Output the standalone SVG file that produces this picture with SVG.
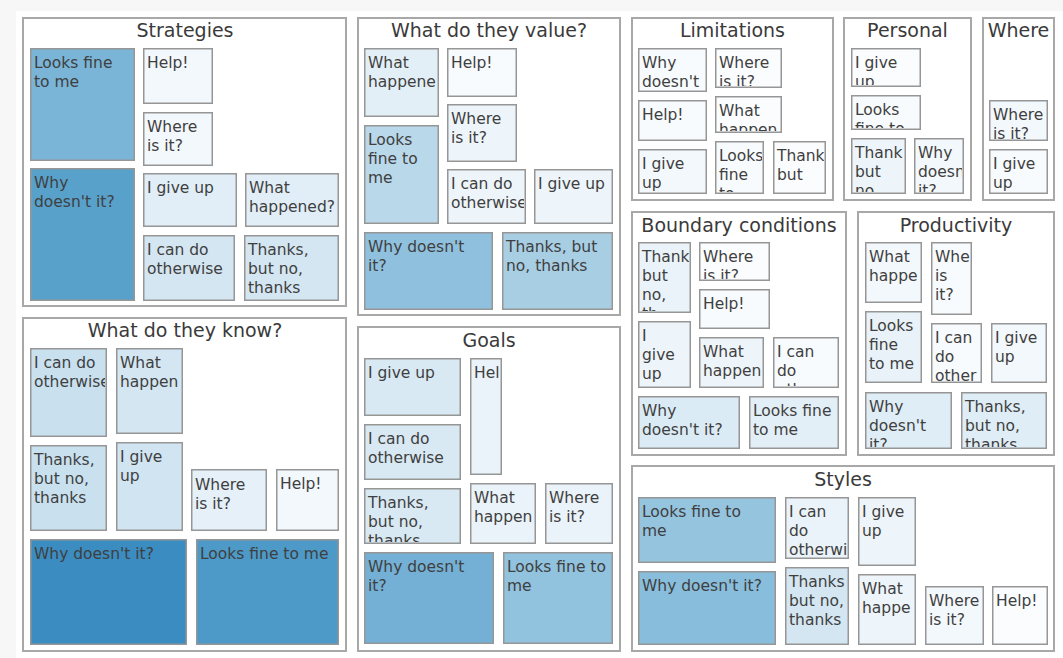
<svg xmlns="http://www.w3.org/2000/svg" width="1063" height="658" viewBox="0 0 1063 658">
  <style>
    .frame { fill: #ffffff; stroke: #a8a8a8; stroke-width: 2; }
    .title { font-family: "DejaVu Sans", Verdana, sans-serif; font-size: 19px; fill: #3a3a3a; text-anchor: middle; }
    .cell rect { stroke: #969696; stroke-width: 1.5; }
    .cell text { font-family: "DejaVu Sans", Verdana, sans-serif; font-size: 15.5px; fill: #3f3f3f; }
  </style>

  <!-- canvas -->
  <rect x="0" y="0" width="1063" height="658" fill="#f7f7f7"/>
  <rect x="16" y="11" width="1047" height="647" fill="#ffffff"/>

  <!-- Strategies -->
  <g id="strategies">
    <rect class="frame" x="23" y="18" width="323" height="288"/>
    <text class="title" x="185" y="37">Strategies</text>
    <g id="strategies-looks-fine" class="cell"><rect x="30.75" y="48.75" width="103.5" height="111.5" fill="#7ab5d7"/><svg x="32" y="50" width="101" height="109"><text x="2" y="18">Looks fine<tspan x="2" dy="19">to me</tspan></text></svg></g>
    <g id="strategies-help" class="cell"><rect x="143.75" y="48.75" width="68.5" height="54.5" fill="#f3f8fc"/><svg x="145" y="50" width="66" height="52"><text x="2" y="18">Help!</text></svg></g>
    <g id="strategies-where" class="cell"><rect x="143.75" y="112.75" width="68.5" height="52.5" fill="#f3f8fc"/><svg x="145" y="114" width="66" height="50"><text x="2" y="18">Where<tspan x="2" dy="19">is it?</tspan></text></svg></g>
    <g id="strategies-why" class="cell"><rect x="30.75" y="168.75" width="103.5" height="131.5" fill="#58a1cb"/><svg x="32" y="170" width="101" height="129"><text x="2" y="18">Why<tspan x="2" dy="19">doesn't it?</tspan></text></svg></g>
    <g id="strategies-give-up" class="cell"><rect x="143.75" y="173.75" width="92.5" height="52.5" fill="#e1eef7"/><svg x="145" y="175" width="90" height="50"><text x="2" y="18">I give up</text></svg></g>
    <g id="strategies-what" class="cell"><rect x="245.75" y="173.75" width="92.5" height="52.5" fill="#e1eef7"/><svg x="247" y="175" width="90" height="50"><text x="2" y="18">What<tspan x="2" dy="19">happened?</tspan></text></svg></g>
    <g id="strategies-otherwise" class="cell"><rect x="143.75" y="235.75" width="90.5" height="64.5" fill="#d4e6f2"/><svg x="145" y="237" width="88" height="62"><text x="2" y="18">I can do<tspan x="2" dy="19">otherwise</tspan></text></svg></g>
    <g id="strategies-thanks" class="cell"><rect x="244.75" y="235.75" width="93.5" height="64.5" fill="#d4e6f2"/><svg x="246" y="237" width="91" height="62"><text x="2" y="18">Thanks,<tspan x="2" dy="19">but no,</tspan><tspan x="2" dy="19">thanks</tspan></text></svg></g>
  </g>

  <!-- What do they value? -->
  <g id="value">
    <rect class="frame" x="358" y="18" width="262" height="297"/>
    <text class="title" x="489" y="37">What do they value?</text>
    <g id="value-what" class="cell"><rect x="364.75" y="48.75" width="73.5" height="67.5" fill="#e3eff7"/><svg x="366" y="50" width="71" height="65"><text x="2" y="18">What<tspan x="2" dy="19">happene</tspan></text></svg></g>
    <g id="value-help" class="cell"><rect x="447.75" y="48.75" width="68.5" height="47.5" fill="#f7fbfd"/><svg x="449" y="50" width="66" height="45"><text x="2" y="18">Help!</text></svg></g>
    <g id="value-where" class="cell"><rect x="447.75" y="104.75" width="68.5" height="56.5" fill="#edf5fa"/><svg x="449" y="106" width="66" height="54"><text x="2" y="18">Where<tspan x="2" dy="19">is it?</tspan></text></svg></g>
    <g id="value-looks-fine" class="cell"><rect x="364.75" y="125.75" width="73.5" height="97.5" fill="#b9d8ea"/><svg x="366" y="127" width="71" height="95"><text x="2" y="18">Looks<tspan x="2" dy="19">fine to</tspan><tspan x="2" dy="19">me</tspan></text></svg></g>
    <g id="value-otherwise" class="cell"><rect x="447.75" y="169.75" width="77.5" height="53.5" fill="#edf5fa"/><svg x="449" y="171" width="75" height="51"><text x="2" y="18">I can do<tspan x="2" dy="19">otherwise</tspan></text></svg></g>
    <g id="value-give-up" class="cell"><rect x="534.75" y="169.75" width="77.5" height="53.5" fill="#edf5fa"/><svg x="536" y="171" width="75" height="51"><text x="2" y="18">I give up</text></svg></g>
    <g id="value-why" class="cell"><rect x="364.75" y="232.75" width="127.5" height="76.5" fill="#8fc1de"/><svg x="366" y="234" width="125" height="74"><text x="2" y="18">Why doesn't<tspan x="2" dy="19">it?</tspan></text></svg></g>
    <g id="value-thanks" class="cell"><rect x="502.75" y="232.75" width="109.5" height="76.5" fill="#a8cee4"/><svg x="504" y="234" width="107" height="74"><text x="2" y="18">Thanks, but<tspan x="2" dy="19">no, thanks</tspan></text></svg></g>
  </g>

  <!-- Limitations -->
  <g id="limitations">
    <rect class="frame" x="632" y="18" width="201" height="182"/>
    <text class="title" x="732.5" y="37">Limitations</text>
    <g id="limitations-why" class="cell"><rect x="638.75" y="48.75" width="67.5" height="42.5" fill="#f7fbfd"/><svg x="640" y="50" width="65" height="40"><text x="2" y="18">Why<tspan x="2" dy="19">doesn't</tspan></text></svg></g>
    <g id="limitations-where" class="cell"><rect x="715.75" y="48.75" width="65.5" height="38.5" fill="#fafcfe"/><svg x="717" y="50" width="63" height="36"><text x="2" y="18">Where<tspan x="2" dy="19">is it?</tspan></text></svg></g>
    <g id="limitations-help" class="cell"><rect x="638.75" y="100.75" width="67.5" height="39.5" fill="#f7fbfd"/><svg x="640" y="102" width="65" height="37"><text x="2" y="18">Help!</text></svg></g>
    <g id="limitations-what" class="cell"><rect x="715.75" y="96.75" width="65.5" height="35.5" fill="#fafcfe"/><svg x="717" y="98" width="63" height="33"><text x="2" y="18">What<tspan x="2" dy="19">happen</tspan></text></svg></g>
    <g id="limitations-give-up" class="cell"><rect x="638.75" y="149.75" width="67.5" height="43.5" fill="#f3f8fc"/><svg x="640" y="151" width="65" height="41"><text x="2" y="18">I give<tspan x="2" dy="19">up</tspan></text></svg></g>
    <g id="limitations-looks-fine" class="cell"><rect x="715.75" y="141.75" width="47.5" height="51.5" fill="#f7fbfd"/><svg x="717" y="143" width="45" height="49"><text x="2" y="18">Looks<tspan x="2" dy="19">fine</tspan><tspan x="2" dy="19">to</tspan></text></svg></g>
    <g id="limitations-thanks" class="cell"><rect x="773.75" y="141.75" width="51.5" height="51.5" fill="#fafcfe"/><svg x="775" y="143" width="49" height="49"><text x="2" y="18">Thank<tspan x="2" dy="19">but</tspan></text></svg></g>
  </g>

  <!-- Personal -->
  <g id="personal">
    <rect class="frame" x="844" y="18" width="127" height="182"/>
    <text class="title" x="907.5" y="37">Personal</text>
    <g id="personal-give-up" class="cell"><rect x="851.75" y="48.75" width="68.5" height="37.5" fill="#fafcfe"/><svg x="853" y="50" width="66" height="35"><text x="2" y="18">I give<tspan x="2" dy="19">up</tspan></text></svg></g>
    <g id="personal-looks-fine" class="cell"><rect x="851.75" y="95.75" width="68.5" height="33.5" fill="#f7fbfd"/><svg x="853" y="97" width="66" height="31"><text x="2" y="18">Looks<tspan x="2" dy="19">fine to</tspan></text></svg></g>
    <g id="personal-thanks" class="cell"><rect x="851.75" y="138.75" width="53.5" height="54.5" fill="#edf5fa"/><svg x="853" y="140" width="51" height="52"><text x="2" y="18">Thank<tspan x="2" dy="19">but</tspan><tspan x="2" dy="19">no</tspan></text></svg></g>
    <g id="personal-why" class="cell"><rect x="914.75" y="138.75" width="48.5" height="54.5" fill="#f3f8fc"/><svg x="916" y="140" width="46" height="52"><text x="2" y="18">Why<tspan x="2" dy="19">doesn</tspan><tspan x="2" dy="19">it?</tspan></text></svg></g>
  </g>

  <!-- Where -->
  <g id="where">
    <rect class="frame" x="983" y="18" width="71" height="182"/>
    <text class="title" x="1018.5" y="37">Where</text>
    <g id="where-where" class="cell"><rect x="989.75" y="100.75" width="57.5" height="39.5" fill="#f3f8fc"/><svg x="991" y="102" width="55" height="37"><text x="2" y="18">Where<tspan x="2" dy="19">is it?</tspan></text></svg></g>
    <g id="where-give-up" class="cell"><rect x="989.75" y="149.75" width="57.5" height="43.5" fill="#f7fbfd"/><svg x="991" y="151" width="55" height="41"><text x="2" y="18">I give<tspan x="2" dy="19">up</tspan></text></svg></g>
  </g>

  <!-- Boundary conditions -->
  <g id="boundary">
    <rect class="frame" x="632" y="212" width="214" height="243"/>
    <text class="title" x="739" y="232">Boundary conditions</text>
    <g id="boundary-thanks" class="cell"><rect x="638.75" y="242.75" width="51.5" height="69.5" fill="#eaf3f9"/><svg x="640" y="244" width="49" height="67"><text x="2" y="18">Thank<tspan x="2" dy="19">but</tspan><tspan x="2" dy="19">no,</tspan><tspan x="2" dy="19">th</tspan></text></svg></g>
    <g id="boundary-where" class="cell"><rect x="699.75" y="242.75" width="69.5" height="37.5" fill="#fafcfe"/><svg x="701" y="244" width="67" height="35"><text x="2" y="18">Where<tspan x="2" dy="19">is it?</tspan></text></svg></g>
    <g id="boundary-help" class="cell"><rect x="699.75" y="289.75" width="69.5" height="38.5" fill="#f7fbfd"/><svg x="701" y="291" width="67" height="36"><text x="2" y="18">Help!</text></svg></g>
    <g id="boundary-give-up" class="cell"><rect x="638.75" y="321.75" width="51.5" height="65.5" fill="#eef5fa"/><svg x="640" y="323" width="49" height="63"><text x="2" y="18">I<tspan x="2" dy="19">give</tspan><tspan x="2" dy="19">up</tspan></text></svg></g>
    <g id="boundary-what" class="cell"><rect x="699.75" y="337.75" width="63.5" height="49.5" fill="#eef5fa"/><svg x="701" y="339" width="61" height="47"><text x="2" y="18">What<tspan x="2" dy="19">happen</tspan></text></svg></g>
    <g id="boundary-otherwise" class="cell"><rect x="773.75" y="337.75" width="64.5" height="49.5" fill="#f7fbfd"/><svg x="775" y="339" width="62" height="47"><text x="2" y="18">I can<tspan x="2" dy="19">do</tspan><tspan x="2" dy="19">oth</tspan></text></svg></g>
    <g id="boundary-why" class="cell"><rect x="638.75" y="396.75" width="100.5" height="51.5" fill="#dbebf5"/><svg x="640" y="398" width="98" height="49"><text x="2" y="18">Why<tspan x="2" dy="19">doesn't it?</tspan></text></svg></g>
    <g id="boundary-looks-fine" class="cell"><rect x="749.75" y="396.75" width="88.5" height="51.5" fill="#e3eff7"/><svg x="751" y="398" width="86" height="49"><text x="2" y="18">Looks fine<tspan x="2" dy="19">to me</tspan></text></svg></g>
  </g>

  <!-- Productivity -->
  <g id="productivity">
    <rect class="frame" x="858" y="212" width="196" height="243"/>
    <text class="title" x="956" y="232">Productivity</text>
    <g id="productivity-what" class="cell"><rect x="865.75" y="242.75" width="55.5" height="59.5" fill="#f3f8fc"/><svg x="867" y="244" width="53" height="57"><text x="2" y="18">What<tspan x="2" dy="19">happe</tspan></text></svg></g>
    <g id="productivity-where" class="cell"><rect x="931.75" y="242.75" width="39.5" height="71.5" fill="#f7fbfd"/><svg x="933" y="244" width="37" height="69"><text x="2" y="18">Whe<tspan x="2" dy="19">is</tspan><tspan x="2" dy="19">it?</tspan></text></svg></g>
    <g id="productivity-looks-fine" class="cell"><rect x="865.75" y="311.75" width="55.5" height="70.5" fill="#e8f2f8"/><svg x="867" y="313" width="53" height="68"><text x="2" y="18">Looks<tspan x="2" dy="19">fine</tspan><tspan x="2" dy="19">to me</tspan></text></svg></g>
    <g id="productivity-otherwise" class="cell"><rect x="931.75" y="323.75" width="49.5" height="58.5" fill="#f7fbfd"/><svg x="933" y="325" width="47" height="56"><text x="2" y="18">I can<tspan x="2" dy="19">do</tspan><tspan x="2" dy="19">other</tspan></text></svg></g>
    <g id="productivity-give-up" class="cell"><rect x="991.75" y="323.75" width="54.5" height="58.5" fill="#f3f8fc"/><svg x="993" y="325" width="52" height="56"><text x="2" y="18">I give<tspan x="2" dy="19">up</tspan></text></svg></g>
    <g id="productivity-why" class="cell"><rect x="865.75" y="392.75" width="85.5" height="55.5" fill="#dfedf6"/><svg x="867" y="394" width="83" height="53"><text x="2" y="18">Why<tspan x="2" dy="19">doesn't</tspan><tspan x="2" dy="19">it?</tspan></text></svg></g>
    <g id="productivity-thanks" class="cell"><rect x="961.75" y="392.75" width="84.5" height="55.5" fill="#dfedf6"/><svg x="963" y="394" width="82" height="53"><text x="2" y="18">Thanks,<tspan x="2" dy="19">but no,</tspan><tspan x="2" dy="19">thanks</tspan></text></svg></g>
  </g>

  <!-- What do they know? -->
  <g id="know">
    <rect class="frame" x="23" y="318" width="323" height="333"/>
    <text class="title" x="185" y="337">What do they know?</text>
    <g id="know-otherwise" class="cell"><rect x="30.75" y="348.75" width="75.5" height="87.5" fill="#c9e1ef"/><svg x="32" y="350" width="73" height="85"><text x="2" y="18">I can do<tspan x="2" dy="19">otherwise</tspan></text></svg></g>
    <g id="know-what" class="cell"><rect x="116.75" y="348.75" width="65.5" height="84.5" fill="#d3e6f2"/><svg x="118" y="350" width="63" height="82"><text x="2" y="18">What<tspan x="2" dy="19">happen</tspan></text></svg></g>
    <g id="know-thanks" class="cell"><rect x="30.75" y="445.75" width="75.5" height="84.5" fill="#c9e1ef"/><svg x="32" y="447" width="73" height="82"><text x="2" y="18">Thanks,<tspan x="2" dy="19">but no,</tspan><tspan x="2" dy="19">thanks</tspan></text></svg></g>
    <g id="know-give-up" class="cell"><rect x="116.75" y="442.75" width="65.5" height="87.5" fill="#d0e4f1"/><svg x="118" y="444" width="63" height="85"><text x="2" y="18">I give<tspan x="2" dy="19">up</tspan></text></svg></g>
    <g id="know-where" class="cell"><rect x="191.75" y="469.75" width="74.5" height="60.5" fill="#e5f0f8"/><svg x="193" y="471" width="72" height="58"><text x="2" y="19">Where<tspan x="2" dy="19">is it?</tspan></text></svg></g>
    <g id="know-help" class="cell"><rect x="276.75" y="469.75" width="61.5" height="60.5" fill="#f3f8fc"/><svg x="278" y="471" width="59" height="58"><text x="2" y="18">Help!</text></svg></g>
    <g id="know-why" class="cell"><rect x="30.75" y="539.75" width="155.5" height="104.5" fill="#3b8cc0"/><svg x="32" y="541" width="153" height="102"><text x="2" y="18">Why doesn't it?</text></svg></g>
    <g id="know-looks-fine" class="cell"><rect x="196.75" y="539.75" width="141.5" height="104.5" fill="#4d9ac8"/><svg x="198" y="541" width="139" height="102"><text x="2" y="18">Looks fine to me</text></svg></g>
  </g>

  <!-- Goals -->
  <g id="goals">
    <rect class="frame" x="358" y="327" width="262" height="324"/>
    <text class="title" x="489" y="347">Goals</text>
    <g id="goals-give-up" class="cell"><rect x="364.75" y="358.75" width="95.5" height="56.5" fill="#d8e9f4"/><svg x="366" y="360" width="93" height="54"><text x="2" y="18">I give up</text></svg></g>
    <g id="goals-help" class="cell"><rect x="470.75" y="358.75" width="30.5" height="115.5" fill="#eaf3f9"/><svg x="472" y="360" width="28" height="113"><text x="2" y="18">Hel</text></svg></g>
    <g id="goals-otherwise" class="cell"><rect x="364.75" y="424.75" width="95.5" height="54.5" fill="#d8e9f4"/><svg x="366" y="426" width="93" height="52"><text x="2" y="18">I can do<tspan x="2" dy="19">otherwise</tspan></text></svg></g>
    <g id="goals-thanks" class="cell"><rect x="364.75" y="488.75" width="95.5" height="54.5" fill="#d8e9f4"/><svg x="366" y="490" width="93" height="52"><text x="2" y="18">Thanks,<tspan x="2" dy="19">but no,</tspan><tspan x="2" dy="19">thanks</tspan></text></svg></g>
    <g id="goals-what" class="cell"><rect x="470.75" y="483.75" width="64.5" height="59.5" fill="#eaf3f9"/><svg x="472" y="485" width="62" height="57"><text x="2" y="18">What<tspan x="2" dy="19">happen</tspan></text></svg></g>
    <g id="goals-where" class="cell"><rect x="545.75" y="483.75" width="66.5" height="59.5" fill="#eaf3f9"/><svg x="547" y="485" width="64" height="57"><text x="2" y="18">Where<tspan x="2" dy="19">is it?</tspan></text></svg></g>
    <g id="goals-why" class="cell"><rect x="364.75" y="552.75" width="128.5" height="90.5" fill="#74b0d5"/><svg x="366" y="554" width="126" height="88"><text x="2" y="18">Why doesn't<tspan x="2" dy="19">it?</tspan></text></svg></g>
    <g id="goals-looks-fine" class="cell"><rect x="503.75" y="552.75" width="108.5" height="90.5" fill="#91c2de"/><svg x="505" y="554" width="106" height="88"><text x="2" y="18">Looks fine to<tspan x="2" dy="19">me</tspan></text></svg></g>
  </g>

  <!-- Styles -->
  <g id="styles">
    <rect class="frame" x="632" y="466" width="422" height="185"/>
    <text class="title" x="843" y="486">Styles</text>
    <g id="styles-looks-fine" class="cell"><rect x="638.75" y="497.75" width="136.5" height="64.5" fill="#95c4df"/><svg x="640" y="499" width="134" height="62"><text x="2" y="18">Looks fine to<tspan x="2" dy="19">me</tspan></text></svg></g>
    <g id="styles-otherwise" class="cell"><rect x="785.75" y="497.75" width="62.5" height="60.5" fill="#eaf3f9"/><svg x="787" y="499" width="60" height="58"><text x="2" y="18">I can<tspan x="2" dy="19">do</tspan><tspan x="2" dy="19">otherwi</tspan></text></svg></g>
    <g id="styles-give-up" class="cell"><rect x="858.75" y="497.75" width="56.5" height="67.5" fill="#eef5fa"/><svg x="860" y="499" width="54" height="65"><text x="2" y="18">I give<tspan x="2" dy="19">up</tspan></text></svg></g>
    <g id="styles-why" class="cell"><rect x="638.75" y="571.75" width="136.5" height="72.5" fill="#88bddc"/><svg x="640" y="573" width="134" height="70"><text x="2" y="18">Why doesn't it?</text></svg></g>
    <g id="styles-thanks" class="cell"><rect x="785.75" y="567.75" width="62.5" height="76.5" fill="#d4e6f2"/><svg x="787" y="569" width="60" height="74"><text x="2" y="18">Thanks<tspan x="2" dy="19">but no,</tspan><tspan x="2" dy="19">thanks</tspan></text></svg></g>
    <g id="styles-what" class="cell"><rect x="858.75" y="574.75" width="56.5" height="69.5" fill="#eef5fa"/><svg x="860" y="576" width="54" height="67"><text x="2" y="18">What<tspan x="2" dy="19">happe</tspan></text></svg></g>
    <g id="styles-where" class="cell"><rect x="925.75" y="586.75" width="57.5" height="57.5" fill="#f3f8fc"/><svg x="927" y="588" width="55" height="55"><text x="2" y="18">Where<tspan x="2" dy="19">is it?</tspan></text></svg></g>
    <g id="styles-help" class="cell"><rect x="992.75" y="586.75" width="54.5" height="57.5" fill="#fafcfe"/><svg x="994" y="588" width="52" height="55"><text x="2" y="18">Help!</text></svg></g>
  </g>
</svg>
